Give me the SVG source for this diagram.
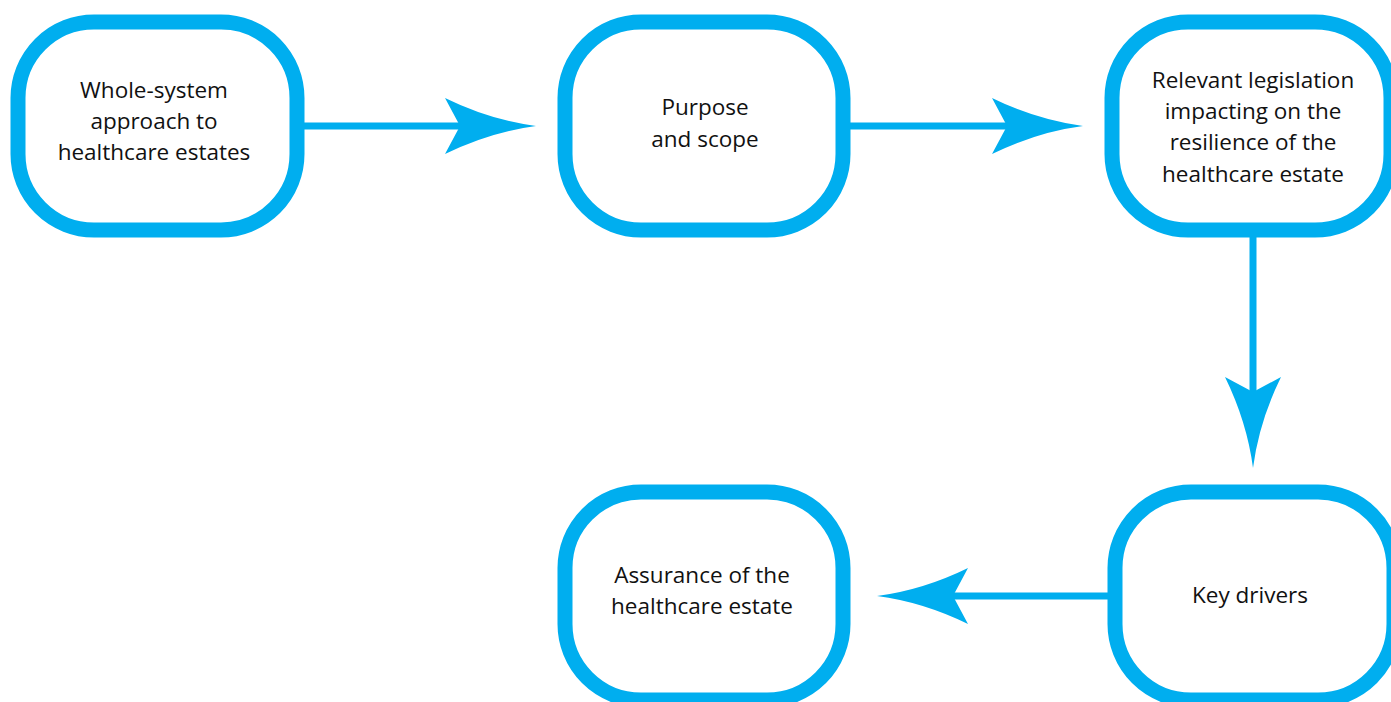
<svg xmlns="http://www.w3.org/2000/svg" xmlns:xlink="http://www.w3.org/1999/xlink" width="1391" height="702" viewBox="0 0 1391 702">
<style>
.box{fill:#fff;stroke:#00AEEF;stroke-width:15}
.lbl{font-family:"Open Sans","Liberation Sans",sans-serif;font-size:22.5px;fill:#111;text-anchor:middle}
.ln{stroke:#00AEEF;stroke-width:7;fill:none}
.hd{fill:#00AEEF}
</style>
<defs>
<path id="ah" d="M0,0 Q-46,-6 -91,-28 L-76,0 L-91,28 Q-46,6 0,0 Z"/>
</defs>
<rect width="1391" height="702" fill="#fff"/>
<g id="connectors">
<line class="ln" x1="300" y1="126" x2="462" y2="126"/>
<use class="hd" xlink:href="#ah" transform="translate(536,126)"/>
<line class="ln" x1="846" y1="126" x2="1009" y2="126"/>
<use class="hd" xlink:href="#ah" transform="translate(1083,126)"/>
<line class="ln" x1="1253" y1="234" x2="1253" y2="394"/>
<use class="hd" xlink:href="#ah" transform="translate(1253,468) rotate(90)"/>
<line class="ln" x1="1111" y1="596" x2="952" y2="596"/>
<use class="hd" xlink:href="#ah" transform="translate(877,596) rotate(180)"/>
</g>
<g id="node1">
<rect class="box" x="18" y="22" width="279" height="208" rx="76" ry="76"/>
<text class="lbl" x="154" y="98">Whole-system</text>
<text class="lbl" x="154" y="129">approach to</text>
<text class="lbl" x="154" y="160">healthcare estates</text>
</g>
<g id="node2">
<rect class="box" x="565" y="22" width="278" height="208" rx="76" ry="76"/>
<text class="lbl" x="705" y="115">Purpose</text>
<text class="lbl" x="705" y="147">and scope</text>
</g>
<g id="node3">
<rect class="box" x="1112" y="22" width="279" height="208" rx="76" ry="76"/>
<text class="lbl" x="1253" y="88">Relevant legislation</text>
<text class="lbl" x="1253" y="119">impacting on the</text>
<text class="lbl" x="1253" y="150">resilience of the</text>
<text class="lbl" x="1253" y="182">healthcare estate</text>
</g>
<g id="node4">
<rect class="box" x="1115" y="492" width="279" height="208" rx="76" ry="76"/>
<text class="lbl" x="1250" y="603">Key drivers</text>
</g>
<g id="node5">
<rect class="box" x="565" y="492" width="278" height="208" rx="76" ry="76"/>
<text class="lbl" x="702" y="583">Assurance of the</text>
<text class="lbl" x="702" y="614">healthcare estate</text>
</g>
</svg>
